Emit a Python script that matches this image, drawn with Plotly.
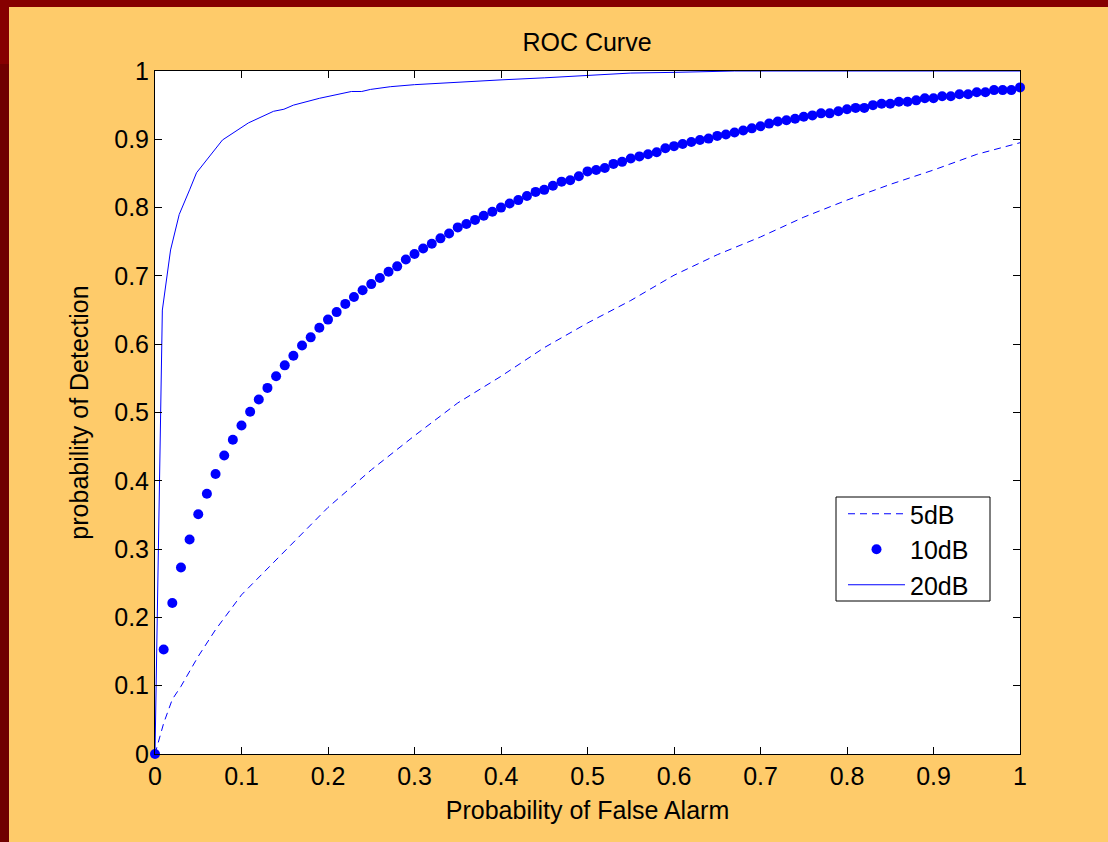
import plotly.graph_objects as go

# ---------------- data ----------------
pfa_10 = [round(i * 0.01, 2) for i in range(101)]
pd_10 = [0.0,
         0.153, 0.221, 0.273, 0.314, 0.351, 0.381, 0.410, 0.437, 0.460, 0.481,
         0.501, 0.519, 0.536, 0.553, 0.569, 0.583, 0.598, 0.610, 0.624, 0.636,
         0.647, 0.659, 0.669, 0.679, 0.688, 0.697, 0.706, 0.714, 0.724, 0.732,
         0.740, 0.747, 0.755, 0.762, 0.771, 0.776, 0.782, 0.788, 0.794, 0.800,
         0.806, 0.811, 0.817, 0.823, 0.826, 0.832, 0.838, 0.840, 0.846, 0.853,
         0.855, 0.858, 0.864, 0.867, 0.872, 0.875, 0.878, 0.881, 0.887, 0.890,
         0.893, 0.896, 0.899, 0.901, 0.905, 0.907, 0.910, 0.913, 0.916, 0.919,
         0.923, 0.926, 0.928, 0.930, 0.933, 0.935, 0.938, 0.938, 0.941, 0.944,
         0.946, 0.946, 0.950, 0.952, 0.952, 0.955, 0.955, 0.957, 0.960, 0.960,
         0.963, 0.963, 0.966, 0.966, 0.969, 0.969, 0.972, 0.972, 0.972, 0.976]

pfa_5 = [0, 0.01, 0.02, 0.03, 0.05, 0.07, 0.10, 0.15, 0.20, 0.25, 0.30, 0.35, 0.40,
         0.45, 0.50, 0.55, 0.60, 0.65, 0.70, 0.75, 0.80, 0.85, 0.90, 0.95, 1.00]
pd_5 = [0, 0.045, 0.080, 0.099, 0.143, 0.182, 0.233, 0.297, 0.361, 0.416, 0.466, 0.514,
        0.553, 0.595, 0.631, 0.664, 0.701, 0.731, 0.757, 0.786, 0.811, 0.834, 0.855,
        0.878, 0.895]

pfa_20 = [0, 0.0085, 0.018, 0.028, 0.040, 0.048, 0.078, 0.108, 0.137, 0.149, 0.160,
          0.190, 0.227, 0.239, 0.249, 0.272, 0.30, 0.35, 0.40, 0.45, 0.50, 0.55,
          0.60, 0.65, 0.67, 1.0]
pd_20 = [0, 0.65, 0.738, 0.79, 0.826, 0.851, 0.899, 0.924, 0.941, 0.944, 0.950,
         0.960, 0.970, 0.970, 0.973, 0.977, 0.980, 0.984, 0.987, 0.990, 0.993, 0.997,
         0.998, 0.999, 1.0, 1.0]

series_names = ["5dB", "10dB", "20dB"]
x_ticks = [0, 0.1, 0.2, 0.3, 0.4, 0.5, 0.6, 0.7, 0.8, 0.9, 1]
x_tick_text = ["0", "0.1", "0.2", "0.3", "0.4", "0.5", "0.6", "0.7", "0.8", "0.9", "1"]
y_ticks = x_ticks
y_tick_text = x_tick_text

# ---------------- figure ----------------
W, H = 1108, 842
L, R, T, B = 155, 88, 71, 88
PW, PH = W - L - R, H - T - B
FONT = "Liberation Sans, Arial, sans-serif"
BLUE = "#0000FF"


def px_x(p):
    return (p - L) / PW


def px_y(p):
    return (H - B - p) / PH


fig = go.Figure()
fig.add_trace(go.Scatter(x=pfa_5, y=pd_5, mode="lines", name=series_names[0],
                         line=dict(color=BLUE, width=1, dash="7px,5px")))
fig.add_trace(go.Scatter(x=pfa_10, y=pd_10, mode="markers", name=series_names[1],
                         marker=dict(color=BLUE, size=10, line=dict(width=0)),
                         cliponaxis=False))
fig.add_trace(go.Scatter(x=pfa_20, y=pd_20, mode="lines", name=series_names[2],
                         line=dict(color=BLUE, width=1)))

axis_common = dict(showgrid=False, zeroline=False, showline=True, linecolor="black",
                   linewidth=1, mirror="ticks", ticks="inside", ticklen=7,
                   tickcolor="black", tickwidth=1,
                   tickfont=dict(family=FONT, size=25, color="black"))

fig.update_xaxes(range=[0, 1], tickvals=x_ticks, ticktext=x_tick_text,
                 title=dict(text="Probability of False Alarm",
                            font=dict(family=FONT, size=25, color="black"),
                            standoff=12),
                 **axis_common)
fig.update_yaxes(range=[0, 1], tickvals=y_ticks, ticktext=y_tick_text,
                 title=dict(text="probability of Detection",
                            font=dict(family=FONT, size=25, color="black"),
                            standoff=18),
                 **axis_common)

shapes = [
    # dark red frame strips of the slide background
    dict(type="rect", xref="paper", yref="paper", layer="below",
         x0=px_x(0), x1=px_x(W), y0=px_y(7), y1=px_y(0),
         fillcolor="#860000", line=dict(width=0)),
    dict(type="rect", xref="paper", yref="paper", layer="below",
         x0=px_x(0), x1=px_x(9), y0=px_y(64), y1=px_y(0),
         fillcolor="#860000", line=dict(width=0)),
    dict(type="rect", xref="paper", yref="paper", layer="below",
         x0=px_x(0), x1=px_x(9), y0=px_y(H), y1=px_y(64),
         fillcolor="#700000", line=dict(width=0)),
    # legend box
    dict(type="rect", xref="paper", yref="paper", layer="above",
         x0=px_x(836), x1=px_x(990), y0=px_y(601), y1=px_y(497),
         fillcolor="rgba(0,0,0,0)", line=dict(width=1, color="black")),
]

fig.update_layout(
    width=W, height=H,
    margin=dict(l=L, r=R, t=T, b=B, pad=0),
    paper_bgcolor="#FECB6A", plot_bgcolor="white",
    font=dict(family=FONT, size=25, color="black"),
    title=dict(text="ROC Curve", x=px_x(587), xref="paper", xanchor="center",
               y=1 - 42 / H, yanchor="middle",
               font=dict(family=FONT, size=25, color="black")),
    legend=dict(x=px_x(843), y=px_y(491), xanchor="left", yanchor="top",
                bgcolor="rgba(0,0,0,0)", borderwidth=0,
                font=dict(family=FONT, size=25, color="black"),
                itemwidth=57, tracegroupgap=0),
    shapes=shapes,
    showlegend=True,
)

fig.write_html("out.html", config={"displayModeBar": False},
               post_script="document.body.style.margin='0';")
